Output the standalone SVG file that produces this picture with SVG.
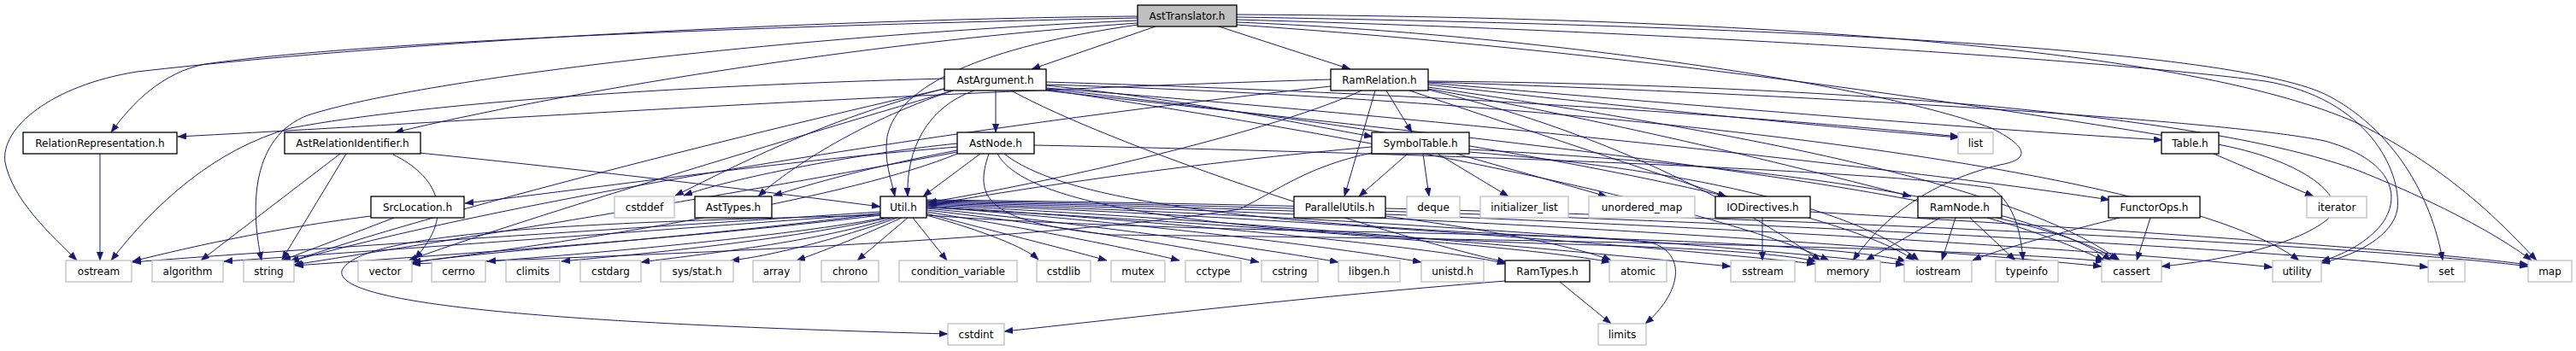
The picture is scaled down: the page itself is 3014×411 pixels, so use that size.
<svg xmlns="http://www.w3.org/2000/svg" width="3014" height="411" viewBox="0 0 3014 411">
<style>
.n rect{fill:#fff;stroke:#000;stroke-width:1.3}
.g rect{fill:#fff;stroke:#bfbfbf;stroke-width:1.3}
.r rect{fill:#bfbfbf;stroke:#000;stroke-width:1.3}
text{font-family:"DejaVu Sans",sans-serif;font-size:12px;text-anchor:middle;fill:#000}
#edges path{fill:none;stroke:#191970;stroke-width:1;marker-end:url(#a)}
</style>
<defs>
<marker id="a" markerUnits="userSpaceOnUse" markerWidth="11" markerHeight="8" refX="10" refY="3.75" orient="auto" viewBox="0 0 11 8"><path d="M0,0 L10,3.75 L0,7.5 z" fill="#191970" stroke="#191970" stroke-width="0.5"/></marker>
</defs>
<rect width="3014" height="411" fill="#fff"/>
<g id="edges">
<path d="M1352,31 L1207,81"/>
<path d="M1426,31 L1580,81"/>
<path d="M1331,21 C1000,28 450,45 240,75 C190,85 155,120 130,155"/>
<path d="M1331,19 C1000,22 500,45 160,84 C60,100 0,150 6,190 C15,235 60,275 90,305"/>
<path d="M1331,24 C950,40 500,90 360,135 C295,160 292,240 306,305"/>
<path d="M1331,27 C1000,50 650,110 462,155"/>
<path d="M1331,29 C1150,55 1050,100 1038,160 C1034,190 1043,210 1047,230"/>
<path d="M1447,17 C2000,20 2550,50 2760,145 C2870,200 2930,265 2968,305"/>
<path d="M1447,20 C2050,30 2600,55 2720,110 C2800,150 2845,230 2858,305"/>
<path d="M1447,23 C2050,40 2500,75 2650,95 C2770,115 2810,200 2805,245 C2800,275 2760,298 2716,308"/>
<path d="M1447,26 C1800,40 2200,100 2330,150 C2380,175 2370,188 2340,193 C2250,215 2200,260 2168,305"/>
<path d="M1447,29 C1900,60 2300,120 2600,170 C2700,190 2740,230 2730,250 C2700,285 2600,305 2529,312"/>
<path d="M1165,106 L1165,155"/>
<path d="M1140,106 C1085,125 1060,175 1062,230"/>
<path d="M1115,106 C1000,145 920,200 887,230"/>
<path d="M1108,103 C960,140 850,200 790,229"/>
<path d="M1224,100 C1400,118 1520,145 1606,160"/>
<path d="M1224,103 C1700,140 2250,200 2468,234"/>
<path d="M1224,96 C1700,110 2100,140 2292,160"/>
<path d="M1105,92 C800,100 500,120 340,150 C250,175 180,240 130,305"/>
<path d="M1105,104 C900,150 500,250 338,307"/>
<path d="M1115,106 C900,170 600,260 478,305"/>
<path d="M1224,106 C1700,160 2350,220 2478,305"/>
<path d="M1224,105 C1600,160 2000,240 2140,305"/>
<path d="M1224,104 C1700,155 2150,240 2240,305"/>
<path d="M1224,99 C1900,120 2550,200 2690,305"/>
<path d="M1183,106 C1300,170 1600,270 1762,307"/>
<path d="M1622,106 L1652,155"/>
<path d="M1609,106 L1573,230"/>
<path d="M1593,106 C1500,150 1250,210 1086,237"/>
<path d="M1557,93 C1000,110 500,145 208,160"/>
<path d="M1649,106 L2020,230"/>
<path d="M1671,99 C1900,125 2150,150 2292,161"/>
<path d="M1671,97 C2000,125 2300,150 2530,164"/>
<path d="M1671,104 C1900,145 2100,195 2236,230"/>
<path d="M1671,95 C2200,100 2600,140 2760,200 C2860,240 2930,280 2962,305"/>
<path d="M1671,102 C2000,150 2350,210 2480,305"/>
<path d="M1671,96 C2100,110 2600,140 2720,165 C2810,190 2810,240 2780,270 C2760,290 2735,300 2716,306"/>
<path d="M1557,101 C1200,140 650,220 340,306"/>
<path d="M1671,105 C1900,160 2050,250 2130,305"/>
<path d="M1147,180 L1080,230"/>
<path d="M1120,172 C900,190 700,220 544,238"/>
<path d="M1120,176 C1020,195 950,215 905,229"/>
<path d="M1120,168 C1000,180 850,210 800,229"/>
<path d="M1120,178 C900,220 600,270 344,310"/>
<path d="M1120,180 C1000,230 700,280 482,307"/>
<path d="M1157,180 C1140,230 1150,260 1300,275 C1800,280 2300,290 2462,306"/>
<path d="M1167,180 C1200,240 1400,270 1800,285 C2000,290 2090,298 2125,306"/>
<path d="M1175,180 C1250,240 1500,265 1900,280 C2100,287 2200,297 2230,306"/>
<path d="M1210,170 C1700,180 2200,200 2330,220 C2360,240 2365,280 2367,305"/>
<path d="M1647,180 L1590,230"/>
<path d="M1665,180 L1672,230"/>
<path d="M1682,180 L1765,230"/>
<path d="M1704,180 L1880,230"/>
<path d="M1605,172 C1400,190 1200,220 1086,240"/>
<path d="M1719,175 C2100,195 2380,240 2470,305"/>
<path d="M1719,178 C2000,200 2180,250 2245,305"/>
<path d="M1605,179 C1530,195 1500,220 1450,245 C1200,285 700,300 482,309"/>
<path d="M1030,250 C800,280 550,295 482,308"/>
<path d="M1030,252 C800,280 500,300 345,311"/>
<path d="M1030,248 C700,270 300,295 155,307"/>
<path d="M1030,250 C700,275 350,300 262,306"/>
<path d="M1035,255 C900,280 650,300 570,306"/>
<path d="M1040,255 C900,285 720,300 657,306"/>
<path d="M1045,255 C950,285 800,300 750,307"/>
<path d="M1050,255 C980,280 900,300 855,305"/>
<path d="M1055,255 C1000,280 960,295 932,305"/>
<path d="M1062,255 L1003,305"/>
<path d="M1068,255 L1108,305"/>
<path d="M1084,252 C1150,270 1200,290 1215,304"/>
<path d="M1084,250 C1180,275 1260,295 1295,305"/>
<path d="M1084,248 C1220,270 1340,295 1380,305"/>
<path d="M1084,246 C1250,265 1420,295 1473,307"/>
<path d="M1084,244 C1300,265 1500,295 1566,307"/>
<path d="M1084,242 C1350,262 1600,295 1663,307"/>
<path d="M1084,241 C1400,262 1700,292 1762,309"/>
<path d="M1084,243 C1450,262 1800,290 1884,307"/>
<path d="M1084,240 C1500,260 1900,300 2025,312"/>
<path d="M1084,239 C1550,255 2000,295 2124,309"/>
<path d="M1084,238 C1600,252 2100,295 2228,310"/>
<path d="M1084,237 C1700,250 2300,295 2459,312"/>
<path d="M1084,236 C1800,248 2500,295 2659,313"/>
<path d="M1084,235 C1900,246 2700,295 2841,313"/>
<path d="M1084,234 C2000,244 2800,290 2958,312"/>
<path d="M1084,252 C1400,275 1850,270 1935,285 C1975,300 1965,345 1925,379"/>
<path d="M1030,252 C700,260 420,270 400,317 C390,360 700,380 1109,391"/>
<path d="M1621,253 C1750,270 1850,290 1885,305"/>
<path d="M2062,255 L2062,305"/>
<path d="M2118,248 C2500,270 2850,295 2958,310"/>
<path d="M2270,255 L2183,305"/>
<path d="M2288,255 L2272,305"/>
<path d="M2305,255 L2358,305"/>
<path d="M2325,255 C2380,270 2430,290 2462,305"/>
<path d="M2516,255 L2500,305"/>
<path d="M2480,255 C2400,275 2330,295 2308,305"/>
<path d="M2590,180 L2707,230"/>
<path d="M1761,329 C1500,350 1300,375 1175,388"/>
<path d="M1825,330 L1885,379"/>
<path d="M434,253 C300,270 200,295 155,306"/>
<path d="M461,255 L330,305"/>
<path d="M398,180 L235,305"/>
<path d="M405,180 L330,304"/>
<path d="M480,178 C700,200 900,225 1030,242"/>
<path d="M460,181 C510,205 535,250 485,303"/>
<path d="M117,180 L117,305"/>
</g>
<g id="AstTranslator" class="r"><rect x="1331" y="6" width="116" height="25"/><text x="1389" y="23">AstTranslator.h</text></g>
<g id="AstArgument" class="n"><rect x="1105" y="81" width="119" height="25"/><text x="1164.5" y="98">AstArgument.h</text></g>
<g id="RamRelation" class="n"><rect x="1557" y="81" width="114" height="25"/><text x="1614" y="98">RamRelation.h</text></g>
<g id="RelationRepresentation" class="n"><rect x="27" y="155" width="180" height="25"/><text x="117" y="172">RelationRepresentation.h</text></g>
<g id="AstRelationIdentifier" class="n"><rect x="333" y="155" width="159" height="25"/><text x="412.5" y="172">AstRelationIdentifier.h</text></g>
<g id="AstNode" class="n"><rect x="1120" y="155" width="90" height="25"/><text x="1165" y="172">AstNode.h</text></g>
<g id="SymbolTable" class="n"><rect x="1605" y="155" width="114" height="25"/><text x="1662" y="172">SymbolTable.h</text></g>
<g id="list" class="g"><rect x="2291" y="155" width="41" height="25"/><text x="2311.5" y="172">list</text></g>
<g id="Table" class="n"><rect x="2529" y="155" width="67" height="25"/><text x="2562.5" y="172">Table.h</text></g>
<g id="SrcLocation" class="n"><rect x="434" y="230" width="109" height="25"/><text x="488.5" y="247">SrcLocation.h</text></g>
<g id="cstddef" class="g"><rect x="719" y="230" width="70" height="25"/><text x="754" y="247">cstddef</text></g>
<g id="AstTypes" class="n"><rect x="813" y="230" width="90" height="25"/><text x="858" y="247">AstTypes.h</text></g>
<g id="Util" class="n"><rect x="1030" y="230" width="54" height="25"/><text x="1057" y="247">Util.h</text></g>
<g id="ParallelUtils" class="n"><rect x="1514" y="230" width="107" height="25"/><text x="1567.5" y="247">ParallelUtils.h</text></g>
<g id="deque" class="g"><rect x="1646" y="230" width="62" height="25"/><text x="1677" y="247">deque</text></g>
<g id="initializer_list" class="g"><rect x="1732" y="230" width="103" height="25"/><text x="1783.5" y="247">initializer_list</text></g>
<g id="unordered_map" class="g"><rect x="1859" y="230" width="124" height="25"/><text x="1921" y="247">unordered_map</text></g>
<g id="IODirectives" class="n"><rect x="2007" y="230" width="111" height="25"/><text x="2062.5" y="247">IODirectives.h</text></g>
<g id="RamNode" class="n"><rect x="2244" y="230" width="98" height="25"/><text x="2293" y="247">RamNode.h</text></g>
<g id="FunctorOps" class="n"><rect x="2467" y="230" width="107" height="25"/><text x="2520.5" y="247">FunctorOps.h</text></g>
<g id="iterator" class="g"><rect x="2699" y="230" width="70" height="25"/><text x="2734" y="247">iterator</text></g>
<g id="ostream" class="g"><rect x="77" y="305" width="77" height="25"/><text x="115.5" y="322">ostream</text></g>
<g id="algorithm" class="g"><rect x="178" y="305" width="83" height="25"/><text x="219.5" y="322">algorithm</text></g>
<g id="string" class="g"><rect x="285" y="305" width="59" height="25"/><text x="314.5" y="322">string</text></g>
<g id="vector" class="g"><rect x="419" y="305" width="63" height="25"/><text x="450.5" y="322">vector</text></g>
<g id="cerrno" class="g"><rect x="505" y="305" width="63" height="25"/><text x="536.5" y="322">cerrno</text></g>
<g id="climits" class="g"><rect x="592" y="305" width="63" height="25"/><text x="623.5" y="322">climits</text></g>
<g id="cstdarg" class="g"><rect x="679" y="305" width="71" height="25"/><text x="714.5" y="322">cstdarg</text></g>
<g id="sysstat" class="g"><rect x="773" y="305" width="85" height="25"/><text x="815.5" y="322">sys/stat.h</text></g>
<g id="array" class="g"><rect x="881" y="305" width="55" height="25"/><text x="908.5" y="322">array</text></g>
<g id="chrono" class="g"><rect x="961" y="305" width="67" height="25"/><text x="994.5" y="322">chrono</text></g>
<g id="condition_variable" class="g"><rect x="1052" y="305" width="138" height="25"/><text x="1121" y="322">condition_variable</text></g>
<g id="cstdlib" class="g"><rect x="1213" y="305" width="63" height="25"/><text x="1244.5" y="322">cstdlib</text></g>
<g id="mutex" class="g"><rect x="1300" y="305" width="63" height="25"/><text x="1331.5" y="322">mutex</text></g>
<g id="cctype" class="g"><rect x="1387" y="305" width="65" height="25"/><text x="1419.5" y="322">cctype</text></g>
<g id="cstring" class="g"><rect x="1476" y="305" width="66" height="25"/><text x="1509" y="322">cstring</text></g>
<g id="libgen" class="g"><rect x="1566" y="305" width="72" height="25"/><text x="1602" y="322">libgen.h</text></g>
<g id="unistd" class="g"><rect x="1663" y="305" width="73" height="25"/><text x="1699.5" y="322">unistd.h</text></g>
<g id="RamTypes" class="n"><rect x="1761" y="305" width="99" height="25"/><text x="1810.5" y="322">RamTypes.h</text></g>
<g id="atomic" class="g"><rect x="1883" y="305" width="67" height="25"/><text x="1916.5" y="322">atomic</text></g>
<g id="sstream" class="g"><rect x="2025" y="305" width="75" height="25"/><text x="2062.5" y="322">sstream</text></g>
<g id="memory" class="g"><rect x="2124" y="305" width="76" height="25"/><text x="2162" y="322">memory</text></g>
<g id="iostream" class="g"><rect x="2228" y="305" width="79" height="25"/><text x="2267.5" y="322">iostream</text></g>
<g id="typeinfo" class="g"><rect x="2335" y="305" width="73" height="25"/><text x="2371.5" y="322">typeinfo</text></g>
<g id="cassert" class="g"><rect x="2459" y="305" width="70" height="25"/><text x="2494" y="322">cassert</text></g>
<g id="utility" class="g"><rect x="2659" y="305" width="57" height="25"/><text x="2687.5" y="322">utility</text></g>
<g id="set" class="g"><rect x="2841" y="305" width="43" height="25"/><text x="2862.5" y="322">set</text></g>
<g id="map" class="g"><rect x="2958" y="305" width="51" height="25"/><text x="2983.5" y="322">map</text></g>
<g id="cstdint" class="g"><rect x="1109" y="379" width="66" height="25"/><text x="1142" y="396">cstdint</text></g>
<g id="limits" class="g"><rect x="1870" y="379" width="56" height="25"/><text x="1898" y="396">limits</text></g>
</svg>
